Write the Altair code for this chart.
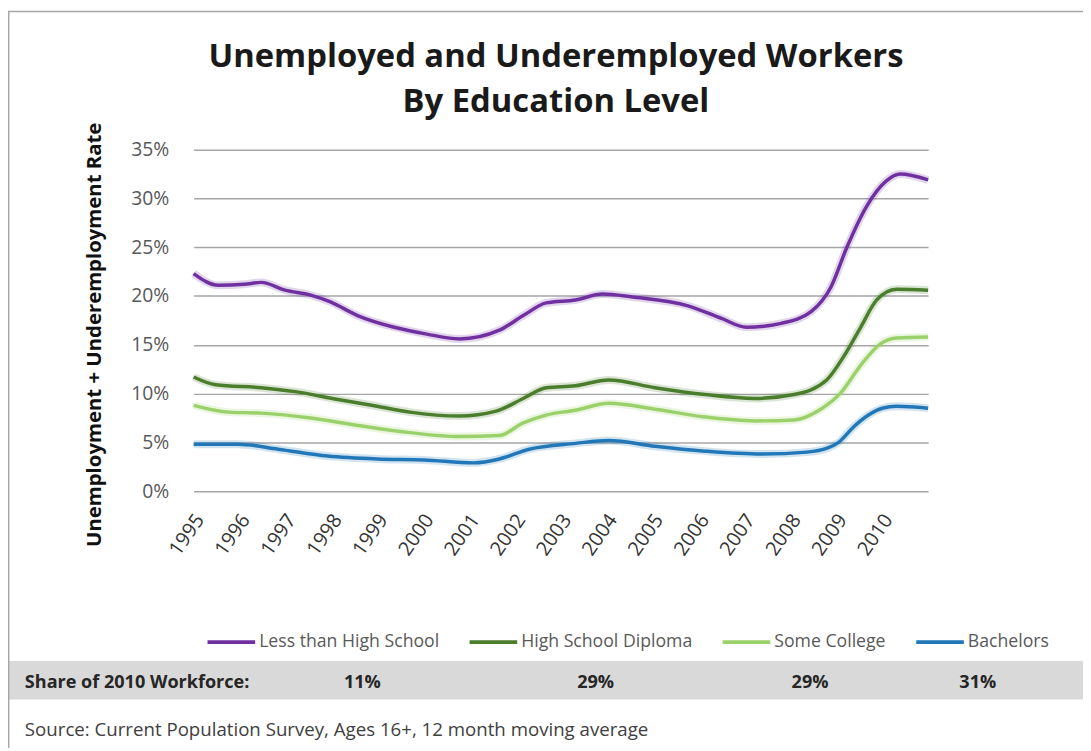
import altair as alt
import pandas as pd

# ---------------- data ----------------
series_names = ["Less than High School", "High School Diploma", "Some College", "Bachelors"]
series_colors = ["#7030a0", "#4a7d2c", "#9bd16b", "#2277b8"]

less_hs_years = [1995.00, 1995.54, 1996.10, 1996.47, 1996.99, 1997.55, 1997.98, 1998.57, 1999.37,
                 2000.08, 2000.79, 2001.66, 2002.18, 2002.68, 2003.32, 2003.91, 2004.56, 2005.77,
                 2006.50, 2007.04, 2007.80, 2008.45, 2008.88, 2009.23, 2009.66, 2010.09, 2010.39, 2011.00]
less_hs_values = [22.3, 21.1, 21.2, 21.4, 20.6, 20.1, 19.4, 18.0, 16.8,
                  16.1, 15.6, 16.5, 18.0, 19.3, 19.6, 20.2, 19.9, 19.0,
                  17.7, 16.8, 17.2, 18.4, 20.9, 25.0, 29.2, 31.8, 32.5, 31.9]

hs_years = [1995.00, 1995.48, 1996.47, 1997.21, 1998.14, 1999.00, 1999.71, 2000.79, 2001.59,
            2002.18, 2002.68, 2003.32, 2004.04, 2005.05, 2006.14, 2007.22, 2008.08, 2008.79,
            2009.16, 2009.53, 2009.88, 2010.31, 2011.00]
hs_values = [11.7, 10.9, 10.6, 10.2, 9.4, 8.7, 8.1, 7.7, 8.2,
             9.5, 10.6, 10.8, 11.4, 10.6, 9.9, 9.5, 9.9, 11.4,
             13.8, 16.8, 19.6, 20.7, 20.6]

college_years = [1995.00, 1995.76, 1996.47, 1997.55, 1998.63, 1999.71, 2000.79, 2001.66, 2002.18,
                 2002.68, 2003.32, 2004.04, 2005.05, 2006.14, 2007.22, 2008.08, 2008.66, 2009.10,
                 2009.53, 2009.96, 2010.31, 2011.00]
college_values = [8.8, 8.1, 8.0, 7.5, 6.7, 6.0, 5.6, 5.7, 7.0,
                  7.8, 8.3, 9.0, 8.4, 7.6, 7.2, 7.3, 8.4, 10.1,
                  12.9, 15.1, 15.7, 15.8]

bachelors_years = [1995.00, 1995.97, 1996.84, 1997.92, 1999.00, 2000.02, 2001.10, 2001.66, 2002.31,
                   2003.32, 2004.04, 2005.05, 2006.14, 2007.37, 2008.36, 2008.80, 2009.05, 2009.38,
                   2009.70, 2010.00, 2010.31, 2011.00]
bachelors_values = [4.8, 4.8, 4.3, 3.6, 3.3, 3.2, 2.9, 3.3, 4.3,
                    4.9, 5.2, 4.6, 4.1, 3.8, 4.0, 4.4, 5.0, 6.6,
                    7.8, 8.5, 8.7, 8.5]

share_labels = ["11%", "29%", "29%", "31%"]
x_tick_years = list(range(1995, 2011))
y_ticks = [0, 5, 10, 15, 20, 25, 30, 35]

title_line1 = "Unemployed and Underemployed Workers"
title_line2 = "By Education Level"
y_title = "Unemployment + Underemployment Rate"
share_title = "Share of 2010 Workforce:"
source_text = "Source: Current Population Survey, Ages 16+, 12 month moving average"

# ---------------- tables ----------------
rows = []
for name, yrs, vals in zip(series_names,
                           [less_hs_years, hs_years, college_years, bachelors_years],
                           [less_hs_values, hs_values, college_values, bachelors_values]):
    for yv, v in zip(yrs, vals):
        rows.append({"series": name, "year": yv, "value": v})
df = pd.DataFrame(rows)

# layout (pixel positions relative to plot origin)
share_label_px = [170, 405, 621, 790]
share_df = pd.DataFrame({"label": share_labels, "px": share_label_px})
one = pd.DataFrame({"k": [0]})

FONT = "Open Sans"
W, H = 740, 344

x_enc = alt.X(
    "year:Q",
    scale=alt.Scale(domain=[1995, 2011], nice=False, zero=False),
    axis=alt.Axis(values=x_tick_years, format="d", labelAngle=-55, labelAlign="right",
                  labelBaseline="middle", labelPadding=25, labelOffset=6, ticks=False,
                  domain=False, grid=False, title=None, labelFontSize=20,
                  labelColor="#333333", labelFont=FONT),
)
y_enc = alt.Y(
    "value:Q",
    scale=alt.Scale(domain=[0, 35], nice=False),
    axis=alt.Axis(values=y_ticks, labelExpr="datum.value + '%'", grid=True,
                  gridColor="#a6a6a6", gridWidth=1.5, domain=False, ticks=False,
                  labelPadding=25, labelFontSize=19.5, labelColor="#595959", labelFont=FONT,
                  title=y_title, titleX=-100, titleY=186, titleAngle=270,
                  titleAlign="center", titleBaseline="middle", titleFont=FONT,
                  titleFontSize=20.5, titleFontWeight="bold", titleColor="#111111"),
)
color_scale = alt.Scale(domain=series_names, range=series_colors)
legend_def = alt.Legend(title=None, orient="none", direction="horizontal",
                        legendX=12, legendY=470, symbolType="stroke",
                        symbolSize=2304, symbolStrokeWidth=4, symbolOpacity=1, labelOffset=2,
                        columnPadding=22, labelFontSize=17.8, labelFont=FONT,
                        labelColor="#595959", labelLimit=400)

halo = alt.Chart(df).mark_line(strokeWidth=8, opacity=0.2, interpolate="monotone").encode(
    x=x_enc, y=y_enc,
    color=alt.Color("series:N", scale=color_scale, sort=series_names, legend=legend_def),
)
lines = alt.Chart(df).mark_line(strokeWidth=3.5, interpolate="monotone").encode(
    x=x_enc, y=y_enc,
    color=alt.Color("series:N", scale=color_scale, sort=series_names, legend=legend_def),
)

band = alt.Chart(one).mark_rect(color="#d9d9d9").encode(
    x=alt.value(-187), x2=alt.value(900), y=alt.value(515), y2=alt.value(554))
border = alt.Chart(one).mark_rect(filled=False, stroke="#a6a6a6", strokeWidth=1.5).encode(
    x=alt.value(-186.3), x2=alt.value(1000), y=alt.value(-139.3), y2=alt.value(800))

t1 = alt.Chart(one).mark_text(text=title_line1, font=FONT, fontSize=33, fontWeight="bold",
                              color="#1a1a1a", align="center", baseline="middle").encode(
    x=alt.value(365), y=alt.value(-93))
t2 = alt.Chart(one).mark_text(text=title_line2, font=FONT, fontSize=33, fontWeight="bold",
                              color="#1a1a1a", align="center", baseline="middle").encode(
    x=alt.value(365), y=alt.value(-48))
share_t = alt.Chart(one).mark_text(text=share_title, font=FONT, fontSize=18.2, fontWeight="bold",
                                   color="#262626", align="left", baseline="middle").encode(
    x=alt.value(-170), y=alt.value(537))
share_v = alt.Chart(share_df).mark_text(font=FONT, fontSize=18.2, fontWeight="bold",
                                        color="#262626", align="center", baseline="middle").encode(
    x=alt.X("px:Q", scale=None), y=alt.value(537), text="label:N")
src = alt.Chart(one).mark_text(text=source_text, font=FONT, fontSize=18.8,
                               color="#404040", align="left", baseline="middle").encode(
    x=alt.value(-170), y=alt.value(585))

chart = alt.layer(band, border, t1, t2, share_t, share_v, src, halo, lines).properties(
    width=W, height=H,
    autosize=alt.AutoSizeParams(type="none"),
    padding={"left": 187, "top": 140, "right": 156, "bottom": 256},
    background="white",
).configure_view(stroke=None)

chart.save("out.html", embed_options={"renderer": "svg", "actions": False})
